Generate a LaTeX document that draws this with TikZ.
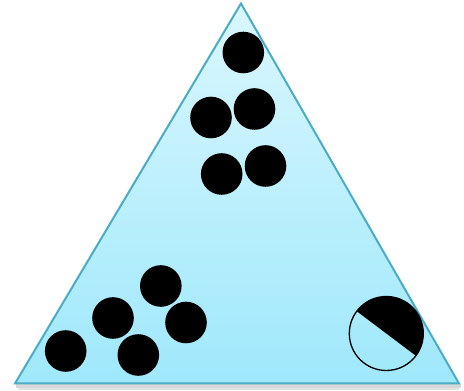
\documentclass[tikz,border=0pt]{standalone}
\usetikzlibrary{calc}
\definecolor{edgeblue}{HTML}{4BACC6}
\definecolor{topfill}{HTML}{DAF7FE}
\definecolor{botfill}{HTML}{9FE8FB}
\tikzset{
  ball/.style={circle, fill=black, inner sep=0pt, minimum size=41.6pt},
  tri/.style={draw=edgeblue, line width=2pt, line join=miter, top color=topfill, bottom color=botfill}
}
\begin{document}
\begin{tikzpicture}[x=1pt,y=1pt]
\useasboundingbox (0,0) rectangle (464,391);
% shadow
\fill[black!45, opacity=0.35] (16,2.5) rectangle (461,7);
\fill[black!45, opacity=0.25] (18,1) rectangle (459,3);
% triangle
\coordinate (A) at (241,387.5);
\coordinate (L) at (15,7.5);
\coordinate (R) at (459,7.5);
\path[tri] (A) -- (L) -- (R) -- cycle;
% balls
\node[ball] (b1) at (243.3,338.5) {};
\node[ball] (b2) at (211,273.5) {};
\node[ball] (b3) at (254.5,282) {};
\node[ball] (b4) at (221.7,217) {};
\node[ball] (b5) at (265.5,225) {};
\node[ball] (b6) at (160.8,105) {};
\node[ball] (b7) at (113,73) {};
\node[ball] (b8) at (186,68.5) {};
\node[ball] (b9) at (65.7,40) {};
\node[ball] (b10) at (138.3,36) {};
% half ball
\coordinate (H) at (386.3,57.5);
\fill[black] ($(H)+(-37:37)$) arc[start angle=-37, end angle=143, radius=37] -- cycle;
\draw[black, line width=1.3pt] (H) circle[radius=37];
\end{tikzpicture}
\end{document}
